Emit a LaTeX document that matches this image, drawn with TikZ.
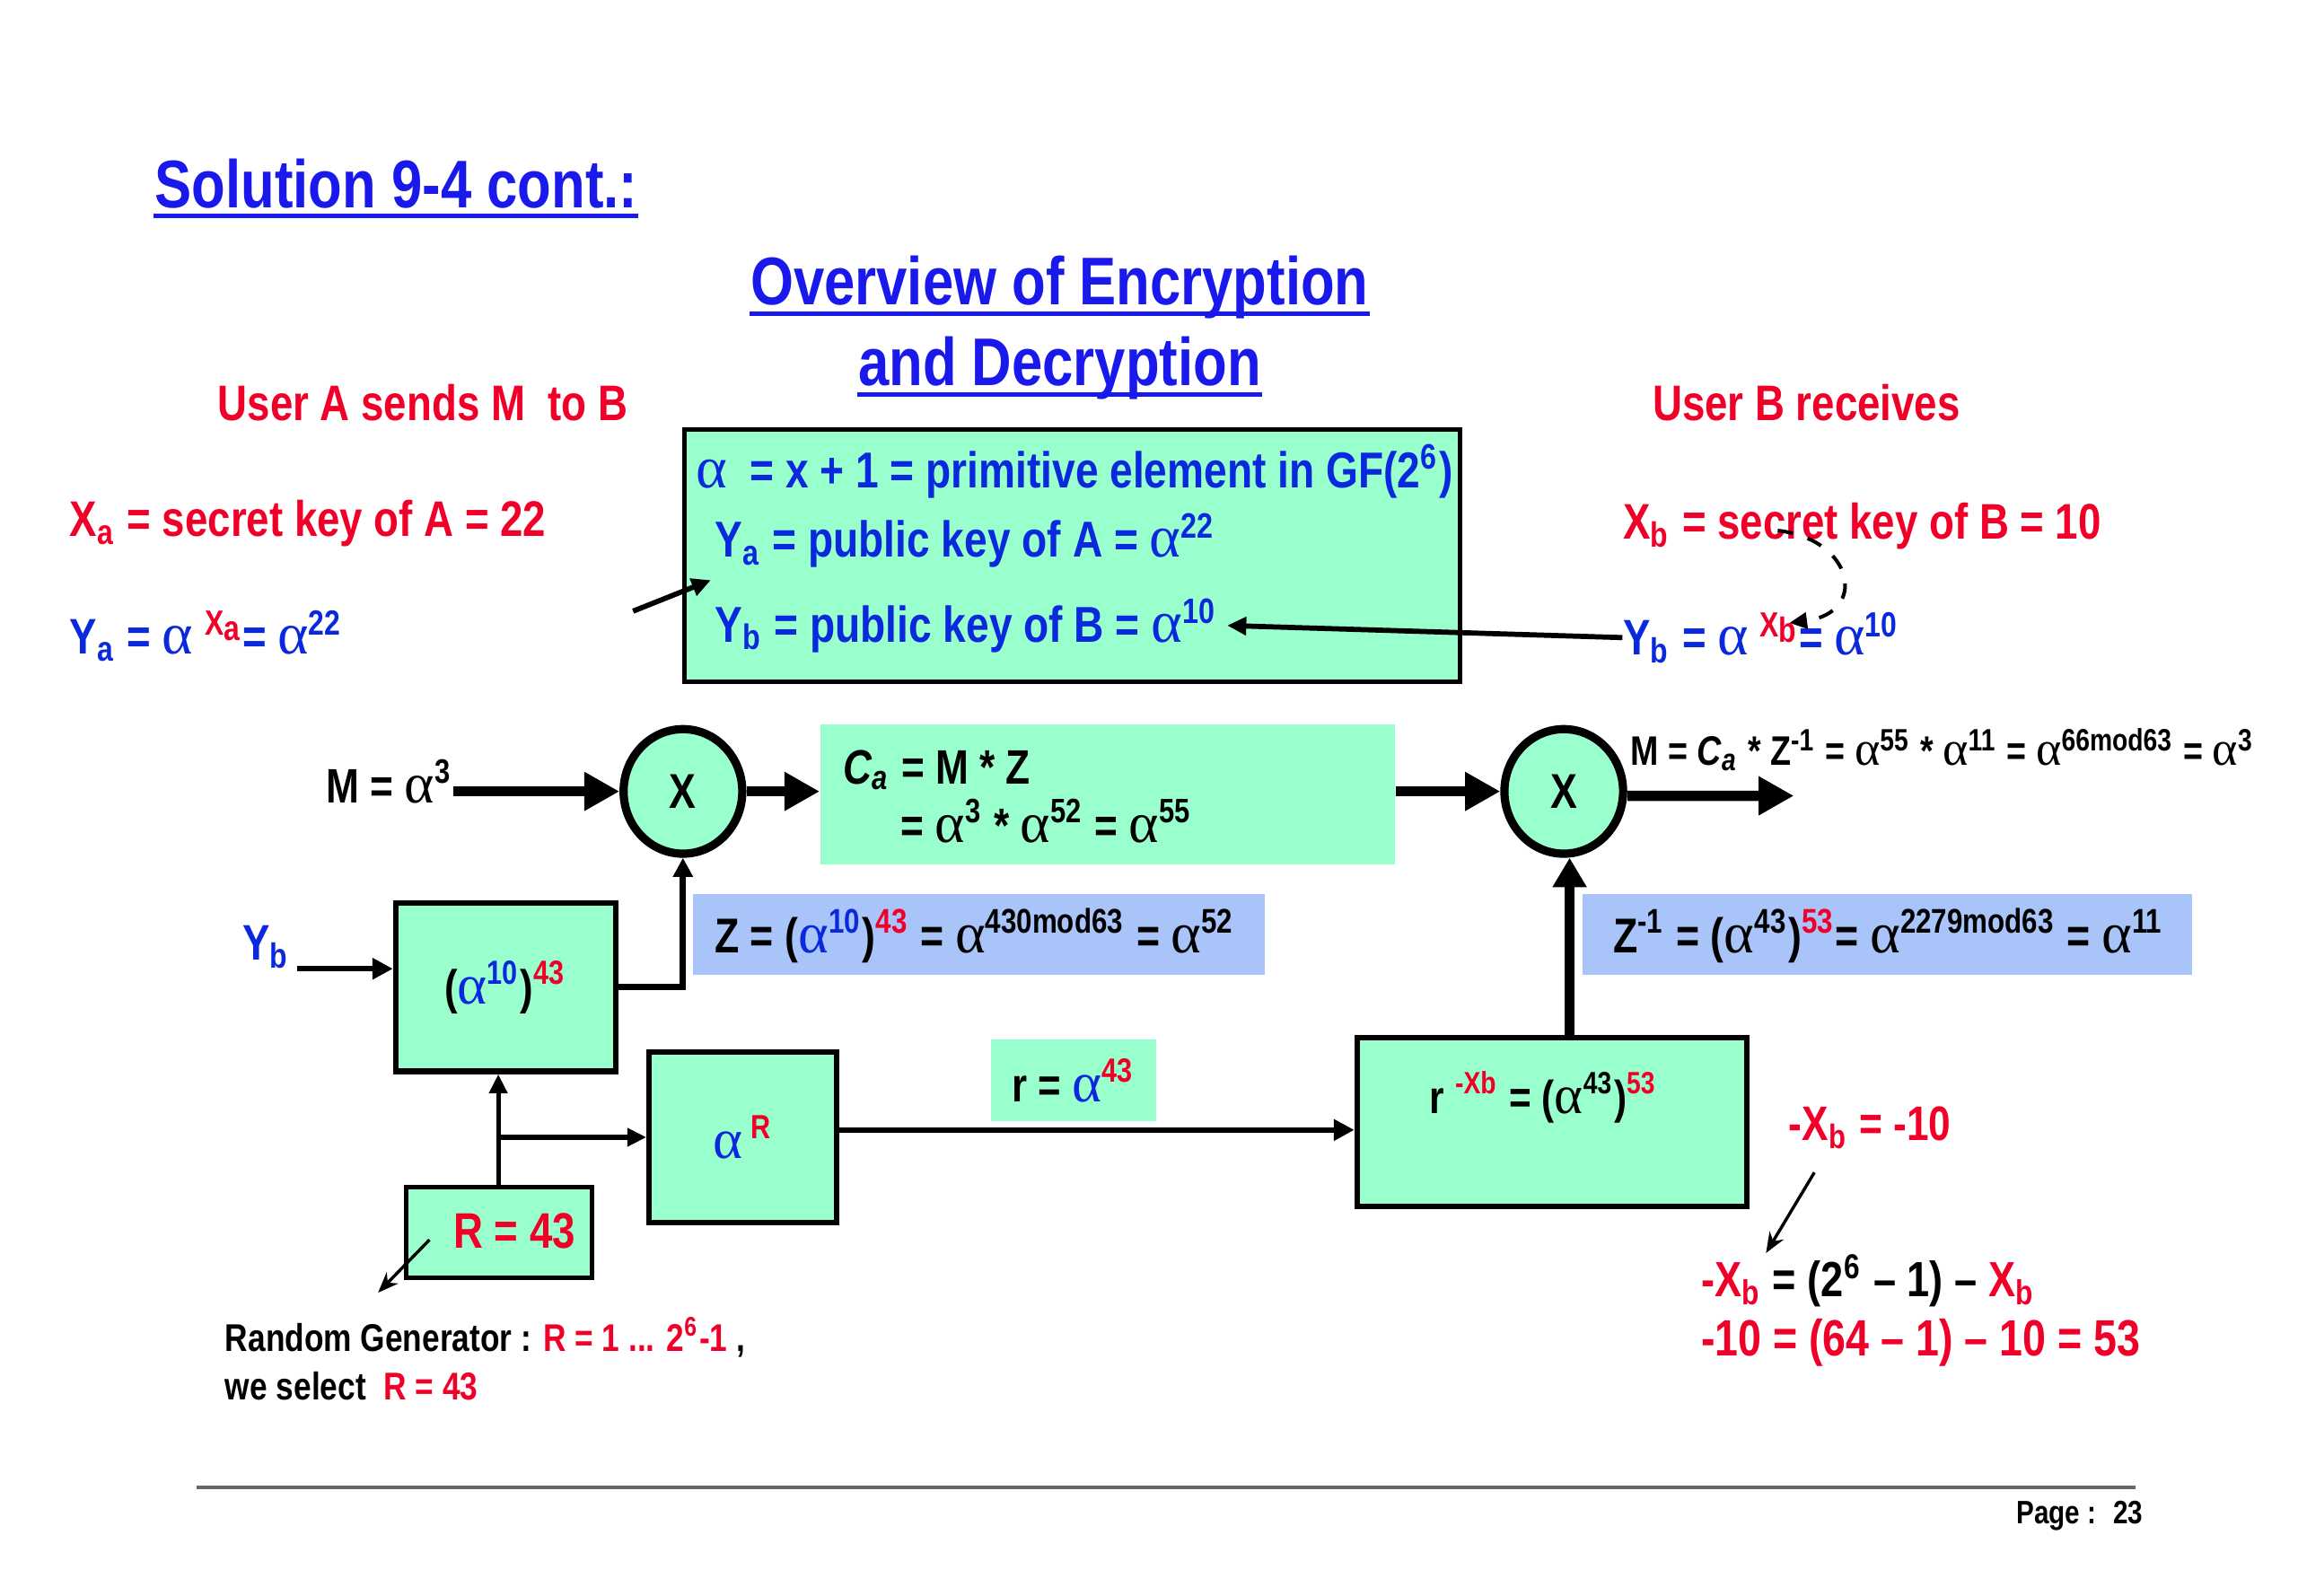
\documentclass[tikz,border=0pt]{standalone}
\usepackage{fontspec}
\setmainfont{Liberation Sans}[FakeStretch=0.82]
\newfontfamily\alfont{Liberation Serif}[Scale=1.18]
\usetikzlibrary{arrows.meta,shapes.geometric}
\definecolor{mint}{RGB}{153,255,204}
\definecolor{lblue}{RGB}{168,196,248}
\definecolor{tred}{RGB}{240,0,40}
\definecolor{tblue}{RGB}{10,40,220}
\definecolor{ttl}{RGB}{25,25,235}
\newcommand\al{{\alfont\mdseries\upshape α}}
\newcommand\spx[1]{\textsuperscript{#1}}
\newcommand\sbx[1]{\textsubscript{#1}}
\newcommand\rtx[1]{\textcolor{tred}{#1}}
\newcommand\btx[1]{\textcolor{tblue}{#1}}
\newcommand\fsz[1]{\fontsize{#1}{#1}\selectfont}
\tikzset{
  ttlstyle/.style={inner sep=0pt, anchor=base west, text=ttl, font=\bfseries\fsz{13.1}},
  lbl/.style={inner sep=0pt, anchor=base west, font=\bfseries\fsz{9.7}},
  mlbl/.style={inner sep=0pt, anchor=base west, font=\bfseries\fsz{9.4}},
  klbl/.style={inner sep=0pt, anchor=base west, font=\bfseries\fsz{9.8}},
  slbl/.style={inner sep=0pt, anchor=base west, font=\bfseries\fsz{7.5}},
  boxd/.style={draw, line width=1.1pt, fill=mint, inner sep=0pt},
  boxp/.style={fill=#1, inner sep=0pt},
  circ/.style={ellipse, draw, line width=1.6pt, fill=mint, inner sep=0pt,
    minimum width=8.1mm, minimum height=8.5mm, font=\bfseries\fsz{9.5}},
  big/.style={line width=2pt, -{Triangle[length=2.4mm,width=2.5mm]}},
  med/.style={line width=1.1pt, -{Triangle[length=1.4mm,width=1.4mm]}},
  thin/.style={line width=0.6pt, -{Stealth[length=1.4mm,width=1.1mm]}},
  uline/.style={ttl, line width=0.9pt}
}
\begin{document}
\begin{tikzpicture}[x=0.1mm,y=-0.1mm]
\useasboundingbox[fill=white] (0,0) rectangle (1568,1089);

% titles
\node[ttlstyle] (t1) at (105,142) {Solution 9-4 cont.:};
\draw[uline] ([yshift=-0.55mm]t1.base west) -- ([yshift=-0.55mm]t1.base east);
\node[ttlstyle, anchor=base] (t2) at (723,208) {Overview of Encryption};
\draw[uline] ([yshift=-0.6mm]t2.base west) -- ([yshift=-0.6mm]t2.base east);
\node[ttlstyle, anchor=base] (t3) at (723,263) {and Decryption};
\draw[uline] ([yshift=-0.6mm]t3.base west) -- ([yshift=-0.6mm]t3.base east);

% side headings
\node[lbl, text=tred] (ua) at (148,287) {User A sends M \ to B};
\node[lbl, text=tred] (ub) at (1127,287) {User B receives};
\node[lbl, text=tred] (xa) at (47,366) {X\sbx{a} = secret key of A = 22};
\node[lbl, text=tblue] (ya) at (47,446) {Y\sbx{a} = \al\ \spx{\rtx{X\raisebox{-0.3ex}{a}}}= \al\spx{22}};
\node[lbl, text=tred] (xb) at (1107,368) {X\sbx{b} = secret key of B = 10};
\node[lbl, text=tblue] (yb) at (1107,447) {Y\sbx{b} = \al\ \spx{\rtx{X\raisebox{-0.3ex}{b}}}= \al\spx{10}};

% key box
\node[boxd, line width=0.9pt, minimum width=52.9mm, minimum height=17.2mm] (kb) at (731.5,379) {};
\node[klbl, text=tblue] (gf) at (474,333) {\al\ \ = x + 1 = primitive element in GF(2\spx{6})};
\node[klbl, text=tblue] (ya2) at (487,380) {Y\sbx{a} = public key of A = \al\spx{22}};
\node[klbl, text=tblue] (yb2) at (487,438) {Y\sbx{b} = public key of B = \al\spx{10}};

\coordinate (yafrom) at (432,417);
\draw[line width=1pt, -{Triangle[length=1.3mm,width=1.2mm]}] (yafrom) -- ([xshift=-0.2mm,yshift=-0.8mm]ya2.south west);
\draw[line width=1pt, -{Triangle[length=1.3mm,width=1.2mm]}] (yb.west) -- ([xshift=0.6mm]yb2.east);

\coordinate (d0) at (1213,362);
\coordinate (d1) at (1221,425);
\draw[line width=0.7pt, dashed, -{Triangle[length=1.2mm,width=1.1mm]}]
  (d0) .. controls (1265,368) and (1275,418) .. (d1);

% main row
\node[mlbl] (m) at (222,548) {M = \al\spx{3}};
\node[circ] (c1) at (466,540) {X};
\node[boxp=mint, minimum width=39.2mm, minimum height=9.6mm] (ca) at (756,542) {};
\node[mlbl] (ca1) at (575,535) {{\itshape C\sbx{a}} = M * Z};
\node[mlbl] (ca2) at (614,575) {= \al\spx{3} * \al\spx{52} = \al\spx{55}};
\node[circ] (c2) at (1067,540) {X};
\coordinate (mout) at (1224,543);
\node[slbl, font=\bfseries\fsz{8.0}] (mres) at (1112,522) {M = {\itshape C\sbx{a}} * Z\spx{-1} = \al\spx{55} * \al\spx{11} = \al\spx{66mod63} = \al\spx{3}};

\draw[big] (m.east |- c1.west) -- (c1.west);
\draw[big] (c1.east) -- (ca.west |- c1.east);
\draw[big] (ca.east |- c2.west) -- (c2.west);
\draw[big] ([yshift=-0.3mm]c2.east) -- (mout);

% Z boxes
\node[boxp=lblue, minimum width=39mm, minimum height=5.5mm] (zb) at (668,637.5) {};
\node[mlbl, font=\bfseries\fsz{9.5}] (zt) at (487,650) {Z = (\btx{\al\spx{10}})\spx{\rtx{43}} = \al\spx{430mod63} = \al\spx{52}};
\node[boxp=lblue, minimum width=41.6mm, minimum height=5.5mm] (zib) at (1288,637.5) {};
\node[mlbl, font=\bfseries\fsz{9.5}] (zit) at (1100,650) {Z\spx{-1} = (\al\spx{43})\spx{\rtx{53}}= \al\spx{2279mod63} = \al\spx{11}};

% power box
\node[boxd, minimum width=15mm, minimum height=11.5mm, font=\bfseries\fsz{9.3}] (p) at (345,673.5)
  {(\btx{\al\spx{10}})\spx{\rtx{43}}};
\node[lbl, text=tblue] (ybl) at (165,655) {Y\sbx{b}};
\coordinate (ybs) at (203,661);
\draw[med] (ybs) -- (p.west |- ybs);
\draw[line width=1.2pt, -{Triangle[length=1.3mm,width=1.3mm]}] (p.east) -| (c1.south);

% random / alpha^R
\node[boxd, minimum width=12.8mm, minimum height=11.6mm, font=\bfseries\fsz{9.3}] (ar) at (507,776)
  {\btx{\al}\,\spx{\rtx{R}}};
\node[boxp=mint, minimum width=11.3mm, minimum height=5.6mm, font=\bfseries\fsz{9.3}] (rl) at (732.5,737)
  {r = \btx{\al\spx{\rtx{43}}}};
\node[boxd, minimum width=26.6mm, minimum height=11.5mm] (rx) at (1059,765.5) {};
\node[mlbl, font=\bfseries\fsz{9.0}] (rxt) at (975,760) {r \spx{\rtx{-Xb}} = (\al\spx{43})\spx{\rtx{53}}};
\draw[med] ([yshift=0.5mm]ar.east) -- ([yshift=0.5mm]rx.west |- ar.east);
\draw[line width=1.9pt, -{Triangle[length=2mm,width=2.2mm]}] ([xshift=0.4mm]c2.south |- rx.north) -- ([xshift=0.4mm]c2.south);

\node[boxd, line width=0.9pt, minimum width=12.7mm, minimum height=6.2mm] (rb) at (340.5,841) {};
\node[lbl, text=tred, anchor=center] (rbt) at (351,840) {R = 43};
\coordinate (rtop) at (340,810);
\draw[line width=0.9pt, -{Triangle[length=1.3mm,width=1.2mm]}] (rtop) -- (rtop |- p.south);
\coordinate (br) at (340,776);
\draw[line width=0.9pt, -{Triangle[length=1.3mm,width=1.2mm]}] (br) -- (ar.west |- br);
\coordinate (rg0) at (293,846);
\coordinate (rg1) at (258,882);
\draw[thin] (rg0) -- (rg1);

\node[slbl] (rg) at (153,922) {Random Generator : \rtx{R = 1 ... 2\spx{6}-1} ,};
\node[slbl] (ws) at (153,955) {we select \ \rtx{R = 43}};

% -Xb
\node[mlbl, text=tred] (nx) at (1220,778) {-X\sbx{b} = -10};
\coordinate (nx0) at (1238,800);
\coordinate (nx1) at (1205,855);
\draw[thin] (nx0) -- (nx1);
\node[mlbl, font=\bfseries\fsz{9.6}] (nx2) at (1160,885) {\rtx{-X\sbx{b}} = (2\spx{6} – 1) – \rtx{X\sbx{b}}};
\node[mlbl, text=tred, font=\bfseries\fsz{9.9}] (nx3) at (1160,925) {-10 = (64 – 1) – 10 = 53};

% footer
\coordinate (f0) at (134,1015);
\coordinate (f1) at (1457,1015);
\draw[line width=0.6pt, gray!80!black] (f0) -- (f1);
\node[inner sep=0pt, anchor=base east, font=\bfseries\fsz{6.3}] (pg) at (1463,1040) {Page : \ 23};
\end{tikzpicture}
\end{document}
